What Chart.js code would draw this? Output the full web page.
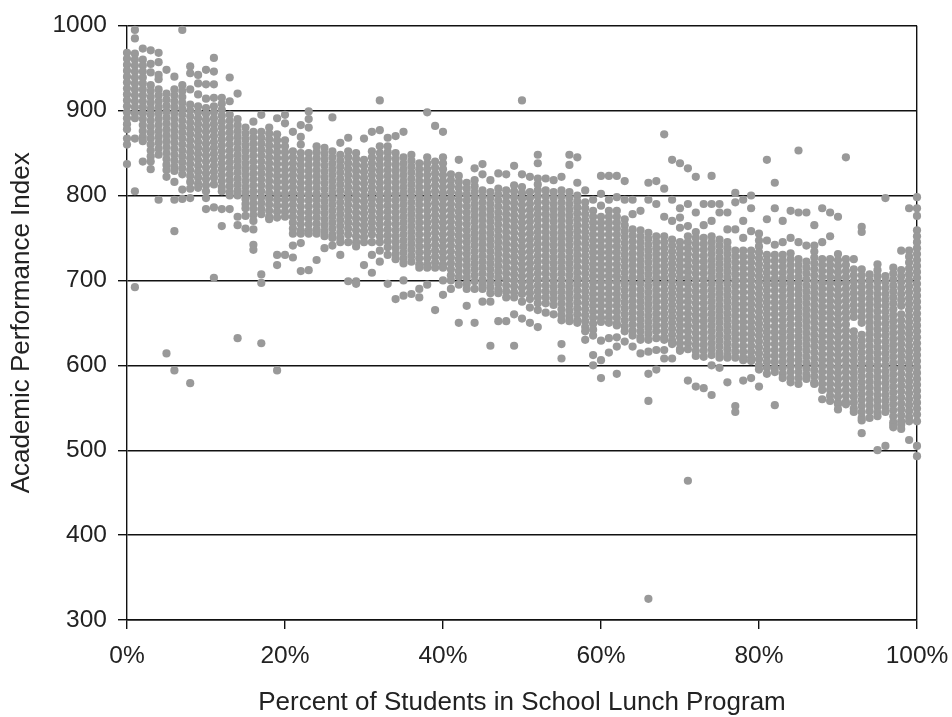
<!DOCTYPE html>
<html><head><meta charset="utf-8">
<script src="https://cdn.jsdelivr.net/npm/chart.js@4"></script>
<style>html,body{margin:0;padding:0;background:#fff}canvas{display:block}</style>
</head><body><canvas id="c" width="952" height="717"></canvas>
<script>
const xTitle = "Percent of Students in School Lunch Program";
const yTitle = "Academic Performance Index";
// scores[i] = API scores of schools read at i percent lunch participation
const scores = [
[968,961,954,947,940,933,926,919,912,905,898,891,884,878,867,860,837],
[995,985,967,960,953,946,939,932,925,918,911,904,897,891,867,805,692],
[973,960,953,946,939,932,925,918,911,904,897,890,883,876,869,864,840],
[971,955,945,930,923,916,909,902,895,888,881,874,867,860,853,846,840,831],
[968,957,942,937,925,918,911,904,897,890,883,876,869,862,855,848,795],
[948,920,913,906,899,892,885,878,871,864,857,850,843,836,830,822,614],
[940,925,918,911,904,897,890,883,876,869,862,855,848,841,834,829,816,795,758,594],
[995,930,923,916,909,902,895,888,881,874,867,860,853,846,839,832,825,807,796],
[952,944,925,907,900,893,886,879,872,865,858,851,844,837,830,823,816,808,797,579],
[942,932,919,905,898,891,884,877,870,863,856,849,842,835,828,821,814,809],
[948,931,914,903,896,889,882,875,868,861,854,847,840,833,826,819,812,805,797,784],
[962,946,931,915,905,898,891,884,877,870,863,856,849,842,835,828,821,813,786,703],
[915,908,901,894,887,880,873,866,859,852,845,838,831,824,817,810,805,784,764],
[939,911,895,888,881,874,867,860,853,846,839,832,825,818,811,804,800,784],
[920,890,883,876,869,862,855,848,841,834,827,820,813,806,800,775,765,632],
[880,873,866,859,852,845,838,831,824,817,810,803,796,790,785,776,761],
[887,875,868,861,854,847,840,833,826,819,812,805,798,791,784,777,770,760,742,736],
[895,875,868,861,854,847,840,833,826,819,812,805,798,791,784,778,707,697,626],
[880,873,866,859,852,845,838,831,824,817,810,803,796,789,782,775,772],
[891,872,865,858,851,844,837,830,823,816,809,802,795,788,781,774,730,718,594],
[895,885,865,858,851,844,837,830,823,816,809,802,795,788,781,775,730],
[875,852,845,838,831,824,817,810,803,796,789,782,775,768,761,755,741,727],
[883,869,860,850,843,836,829,822,815,808,801,794,787,780,773,766,759,755,744,711],
[899,890,880,850,843,836,829,822,815,808,801,794,787,780,773,766,759,755,712],
[858,851,844,837,830,823,816,809,802,795,788,781,774,767,760,755,724],
[856,849,842,835,828,821,814,807,800,793,786,779,772,765,758,752,738],
[892,852,845,838,831,824,817,810,803,796,789,782,775,768,761,754,750,741],
[862,848,841,834,827,820,813,806,799,792,785,778,771,764,757,750,745,730],
[868,852,845,838,831,824,817,810,803,796,789,782,775,768,761,754,745,699],
[850,843,836,829,822,815,808,801,794,787,780,773,766,759,752,745,740,699,696],
[867,842,835,828,821,814,807,800,793,786,779,772,765,758,751,745,718],
[875,852,845,838,831,824,817,810,803,796,789,782,775,768,761,754,745,730,709],
[912,877,858,850,843,836,829,822,815,808,801,794,787,780,773,766,759,752,745,735,722],
[868,858,851,844,837,830,823,816,809,802,795,788,781,774,767,760,753,746,739,730,696],
[870,850,843,836,829,822,815,808,801,794,787,780,773,766,759,752,745,738,731,725,678],
[875,845,838,831,824,817,810,803,796,789,782,775,768,761,754,747,740,733,726,720,700,682],
[848,841,834,827,820,813,806,799,792,785,778,771,764,757,750,743,736,729,722,684],
[838,831,824,817,810,803,796,789,782,775,768,761,754,747,740,733,726,719,715,690,680],
[898,845,838,831,824,817,810,803,796,789,782,775,768,761,754,747,740,733,726,719,715,695],
[882,840,833,826,819,812,805,798,791,784,777,770,763,756,749,742,735,728,721,715,665],
[875,845,838,831,824,817,810,803,796,789,782,775,768,761,754,747,740,733,726,719,715,700,683],
[825,818,811,804,797,790,783,776,769,762,755,748,741,734,727,720,713,706,700,690],
[842,823,816,809,802,795,788,781,774,767,760,753,746,739,732,725,718,711,704,695,650],
[815,808,801,794,787,780,773,766,759,752,745,738,731,724,717,710,703,696,690,670],
[832,818,811,804,797,790,783,776,769,762,755,748,741,734,727,720,713,706,699,690,650],
[837,825,806,799,792,785,778,771,764,757,750,743,736,729,722,715,708,701,695,690,675],
[818,804,797,790,783,776,769,762,755,748,741,734,727,720,713,706,699,692,685,675,623],
[826,808,801,794,787,780,773,766,759,752,745,738,731,724,717,710,703,696,689,685,652],
[825,806,799,792,785,778,771,764,757,750,743,736,729,722,715,708,701,694,687,680,652],
[835,812,805,798,791,784,777,770,763,756,749,742,735,728,721,714,707,700,693,686,680,660,623],
[912,825,810,803,796,789,782,775,768,761,754,747,740,733,726,719,712,705,698,691,684,675,655],
[822,804,797,790,783,776,769,762,755,748,741,734,727,720,713,706,699,692,685,678,668,650],
[848,838,820,813,806,799,792,785,778,771,764,757,750,743,736,729,722,715,708,701,694,687,680,673,665,645],
[820,806,799,792,785,778,771,764,757,750,743,736,729,722,715,708,701,694,687,680,673,662],
[818,804,797,790,783,776,769,762,755,748,741,734,727,720,713,706,699,692,685,678,671,660],
[822,806,799,792,785,778,771,764,757,750,743,736,729,722,715,708,701,694,687,680,673,666,659,653,625,608],
[848,836,804,797,790,783,776,769,762,755,748,741,734,727,720,713,706,699,692,685,678,671,664,657,652],
[845,815,800,793,786,779,772,765,758,751,744,737,730,723,716,709,702,695,688,681,674,667,660,653,650],
[806,792,785,778,771,764,757,750,743,736,729,722,715,708,701,694,687,680,673,666,659,652,645,640,630],
[795,782,775,768,761,754,747,740,733,726,719,712,705,698,691,684,677,670,663,656,649,642,635,612,600],
[823,802,788,775,768,761,754,747,740,733,726,719,712,705,698,691,684,677,670,663,656,651,629,606,585],
[823,795,782,775,768,761,754,747,740,733,726,719,712,705,698,691,684,677,670,663,656,650,632,615],
[823,798,782,775,768,761,754,747,740,733,726,719,712,705,698,691,684,677,670,663,656,649,647,633,622,590],
[817,795,772,765,758,751,744,737,730,723,716,709,702,695,688,681,674,667,660,653,646,640,628],
[795,778,760,753,746,739,732,725,718,711,704,697,690,683,676,669,662,655,648,641,635,622],
[782,759,752,745,738,731,724,717,710,703,696,689,682,675,668,661,654,647,640,633,630,614],
[815,795,756,749,742,735,728,721,714,707,700,693,686,679,672,665,658,651,644,637,630,616,590,558,325],
[817,790,752,745,738,731,724,717,710,703,696,689,682,675,668,661,654,647,640,632,618,595],
[872,808,775,752,745,738,731,724,717,710,703,696,689,682,675,668,661,654,647,640,633,630,618,608],
[842,795,770,748,741,734,727,720,713,706,699,692,685,678,671,664,657,650,643,636,629,625,608],
[838,785,774,762,745,738,731,724,717,710,703,696,689,682,675,668,661,654,647,640,633,626,619,617],
[832,790,764,752,745,738,731,724,717,710,703,696,689,682,675,668,661,654,647,640,633,626,619,582,464],
[822,780,757,750,743,736,729,722,715,708,701,694,687,680,673,666,659,652,645,638,631,624,617,611,575],
[790,765,750,743,736,729,722,715,708,701,694,687,680,673,666,659,652,645,638,631,624,617,610,573],
[823,790,770,752,745,738,731,724,717,710,703,696,689,682,675,668,661,654,647,640,633,626,619,612,600,565],
[790,780,748,741,734,727,720,713,706,699,692,685,678,671,664,657,650,643,636,629,622,615,609,597],
[780,760,745,738,731,724,717,710,703,696,689,682,675,668,661,654,647,640,633,626,619,612,609,580],
[803,792,760,735,728,721,714,707,700,693,686,679,672,665,658,651,644,637,630,623,616,609,552,545],
[795,770,750,735,728,721,714,707,700,693,686,679,672,665,658,651,644,637,630,623,616,609,606,582],
[800,785,758,735,728,721,714,707,700,693,686,679,672,665,658,651,644,637,630,623,616,609,605,585],
[755,747,740,733,726,719,712,705,698,691,684,677,670,663,656,649,642,635,628,621,614,607,600,595,575],
[842,772,747,730,723,716,709,702,695,688,681,674,667,660,653,646,639,632,625,618,611,604,597,590],
[815,785,742,730,723,716,709,702,695,688,681,674,667,660,653,646,639,632,625,618,611,604,597,592,553],
[770,745,730,723,716,709,702,695,688,681,674,667,660,653,646,639,632,625,618,611,604,597,590,585],
[782,750,732,725,718,711,704,697,690,683,676,669,662,655,648,641,634,627,620,613,606,599,592,585,580],
[853,780,745,725,718,711,704,697,690,683,676,669,662,655,648,641,634,627,620,613,606,599,592,585,578],
[780,741,722,715,708,701,694,687,680,673,666,659,652,645,638,631,624,617,610,603,596,589,584],
[765,741,734,727,720,713,706,699,692,685,678,671,664,657,650,643,636,629,622,615,608,601,594,587,580,578],
[785,745,725,718,711,704,697,690,683,676,669,662,655,648,641,634,627,620,613,606,599,592,585,578,571,560],
[780,752,725,718,711,704,697,690,683,676,669,662,655,648,641,634,627,620,613,606,599,592,585,578,571,564,558],
[775,731,724,717,710,703,696,689,682,675,668,661,654,647,640,633,626,619,612,605,598,591,584,577,570,563,556,554,548],
[845,725,718,711,704,697,690,683,676,669,662,655,648,641,634,627,620,613,606,599,592,585,578,571,564,557,554],
[725,713,706,699,692,685,678,671,664,657,640,633,626,619,612,605,598,591,584,577,570,563,556,549,545],
[763,757,713,706,699,692,685,678,671,664,657,650,636,629,622,615,608,601,594,587,580,573,566,559,552,545,538,535,520],
[707,700,693,686,679,672,665,658,651,644,637,630,623,616,609,602,595,588,581,574,567,560,553,546,538],
[719,712,705,698,691,684,677,670,663,656,649,642,635,628,621,614,607,600,593,586,579,572,565,558,551,544,540,500],
[797,705,698,691,684,677,670,663,656,649,642,635,628,621,614,607,600,593,586,579,572,565,558,551,545,505],
[715,708,701,694,687,680,673,666,659,652,645,638,631,624,617,610,603,596,589,582,575,568,561,554,547,540,533,530,527],
[735,712,705,698,691,684,677,670,660,653,646,639,632,625,618,611,604,597,590,583,576,569,562,555,548,541,534,530,525],
[785,735,728,721,714,707,700,693,686,679,672,665,658,651,644,637,630,623,616,609,602,595,588,581,574,567,560,553,546,539,534,512],
[798,785,776,759,752,745,738,731,724,717,710,703,696,689,682,675,668,661,654,647,640,633,626,619,612,605,598,591,584,577,570,563,556,549,542,534,505,493]
];
const tickColor = "#111111";
const labelFont = {family: "Liberation Sans", size: 24.5};
const titleFont = {family: "Liberation Sans", size: 26, lineHeight: 1};
const points = [];
scores.forEach((ys, pct) => ys.forEach(y => points.push({x: pct, y})));
new Chart(document.getElementById("c"), {
  type: "scatter",
  data: {datasets: [{data: points, backgroundColor: "#999999", borderWidth: 0, pointRadius: 4.1, clip: false}]},
  options: {
    responsive: false, animation: false, devicePixelRatio: 1,
    layout: {padding: {top: 24, right: 35, left: 0, bottom: 0}},
    plugins: {legend: {display: false}, tooltip: {enabled: false}},
    scales: {
      x: {
        type: "linear", min: 0, max: 100,
        afterFit(s){ s.height = 97; s.paddingRight = 0; s.paddingLeft = 0; },
        border: {color: tickColor, width: 1.4},
        grid: {color: c => c.tick && c.tick.value === 100 ? tickColor : "rgba(0,0,0,0)", tickColor, tickLength: 9, lineWidth: 1.4},
        ticks: {stepSize: 20, padding: 13, maxRotation: 0, color: "#222", font: labelFont, callback: v => v + "%"},
        title: {display: true, text: xTitle, color: "#222", font: titleFont, padding: {top: 0, bottom: 1}}
      },
      y: {
        type: "linear", min: 300, max: 1000,
        afterFit(s){ s.width = 127; },
        border: {color: tickColor, width: 1.4},
        grid: {color: tickColor, tickColor, tickLength: 9, lineWidth: 1.4},
        ticks: {stepSize: 100, padding: 11, color: "#222", font: labelFont, callback: v => String(v)},
        title: {display: true, text: yTitle, color: "#222", font: titleFont, padding: {top: 9, bottom: 0}}
      }
    }
  }
});
</script></body></html>
